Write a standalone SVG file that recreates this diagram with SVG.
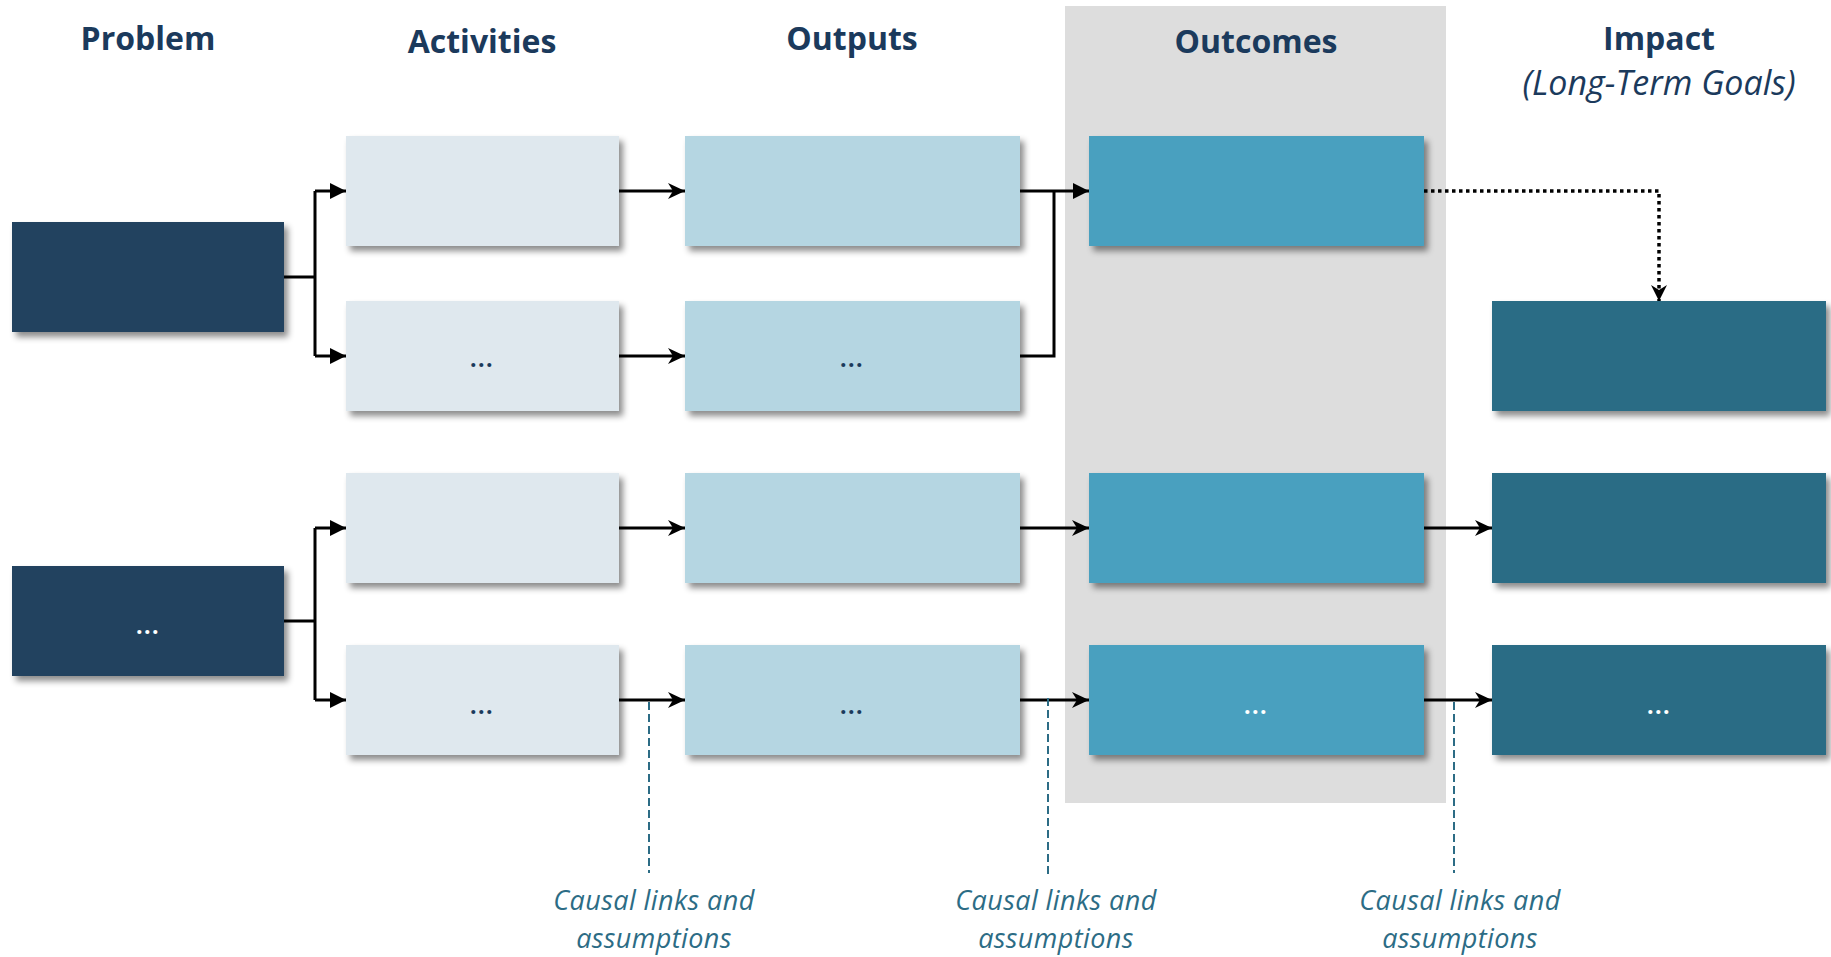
<svg xmlns="http://www.w3.org/2000/svg" width="1831" height="957" viewBox="0 0 1831 957">
  <style>
    .title { font-family: "Open Sans", "Liberation Sans", sans-serif; font-weight: 700; font-size: 32px; fill: #1b3a5c; text-anchor: middle; }
    .subtitle { font-family: "Open Sans", "Liberation Sans", sans-serif; font-style: italic; font-size: 34px; fill: #1b3a5c; text-anchor: middle; }
    .note { font-family: "Open Sans", "Liberation Sans", sans-serif; font-style: italic; font-size: 27px; letter-spacing: 0.4px; fill: #2c6c85; text-anchor: middle; }
    .dots { font-family: "Open Sans", "Liberation Sans", sans-serif; font-weight: 700; font-size: 23px; text-anchor: middle; letter-spacing: 1.5px; }
    .dots-dark { fill: #1b3a5c; }
    .dots-light { fill: #ffffff; }
    .problem { fill: #24425e; }
    .activity { fill: #dfe8ee; }
    .output { fill: #b5d6e2; }
    .outcome { fill: #4aa0bf; }
    .impact { fill: #2c6c85; }
    .box { filter: url(#shadow); }
    .link { fill: none; stroke: #000; stroke-width: 3; }
    .tri { marker-end: url(#tri); }
    .barb { marker-end: url(#barb); }
    .dotted { fill: none; stroke: #000; stroke-width: 3.5; stroke-dasharray: 3.5 3.5; marker-end: url(#barb-small); }
    .assume { fill: none; stroke: #2c6c85; stroke-width: 2; stroke-dasharray: 8 4; }
  </style>
  <defs>
    <filter id="shadow" x="-10%" y="-20%" width="125%" height="150%">
      <feDropShadow dx="4" dy="5" stdDeviation="3" flood-color="#000" flood-opacity="0.45"/>
    </filter>
    <marker id="tri" markerUnits="userSpaceOnUse" markerWidth="16" markerHeight="16" refX="16" refY="8" orient="auto">
      <path d="M0,0 L16,8 L0,16 z" fill="#000"/>
    </marker>
    <marker id="barb" markerUnits="userSpaceOnUse" markerWidth="17" markerHeight="16" refX="17" refY="8" orient="auto">
      <path d="M0,0 L17,8 L0,16 L5,8 z" fill="#000"/>
    </marker>
    <marker id="barb-small" markerUnits="userSpaceOnUse" markerWidth="16" markerHeight="16" refX="16" refY="8" orient="auto">
      <path d="M0,0 L16,8 L0,16 L5,8 z" fill="#000"/>
    </marker>
  </defs>

  <rect width="1831" height="957" fill="#ffffff"/>

  <!-- outcomes column band -->
  <rect id="outcomes-band" x="1065" y="6" width="381" height="797" fill="#dddddd"/>

  <!-- column headings -->
  <g id="headings">
    <text class="title" x="148" y="50">Problem</text>
    <text class="title" x="482" y="53">Activities</text>
    <text class="title" x="852" y="50">Outputs</text>
    <text class="title" x="1256" y="53">Outcomes</text>
    <text class="title" x="1659" y="50">Impact</text>
    <text class="subtitle" x="1659" y="95">(Long-Term Goals)</text>
  </g>

  <!-- connectors -->
  <g id="connectors">
    <!-- problem splits -->
    <path class="link" d="M284,277 H315 M315,191 V356"/>
    <path class="link tri" d="M315,191 H346"/>
    <path class="link tri" d="M315,356 H346"/>
    <path class="link" d="M284,621 H315 M315,528 V700"/>
    <path class="link tri" d="M315,528 H346"/>
    <path class="link tri" d="M315,700 H346"/>
    <!-- activities to outputs -->
    <path class="link barb" d="M619,191 H685"/>
    <path class="link barb" d="M619,356 H685"/>
    <path class="link barb" d="M619,528 H685"/>
    <path class="link barb" d="M619,700 H685"/>
    <!-- outputs to outcomes -->
    <path class="link tri" d="M1020,191 H1089"/>
    <path class="link" d="M1020,356 H1054 V191"/>
    <path class="link barb" d="M1020,528 H1089"/>
    <path class="link barb" d="M1020,700 H1089"/>
    <!-- outcomes to impact -->
    <path class="dotted" d="M1424,191 H1659 V301"/>
    <path class="link barb" d="M1424,528 H1492"/>
    <path class="link barb" d="M1424,700 H1492"/>
    <!-- assumption leaders -->
    <path class="assume" d="M649,702 V873"/>
    <path class="assume" d="M1048,698 V877"/>
    <path class="assume" d="M1454,702 V873"/>
  </g>

  <!-- problem -->
  <g id="problem-1"><rect class="box problem" x="12" y="222" width="272" height="110"/></g>
  <g id="problem-2"><rect class="box problem" x="12" y="566" width="272" height="110"/><text class="dots dots-light" x="148" y="634">...</text></g>

  <!-- activities -->
  <g id="activity-1"><rect class="box activity" x="346" y="136" width="273" height="110"/></g>
  <g id="activity-2"><rect class="box activity" x="346" y="301" width="273" height="110"/><text class="dots dots-dark" x="482" y="367">...</text></g>
  <g id="activity-3"><rect class="box activity" x="346" y="473" width="273" height="110"/></g>
  <g id="activity-4"><rect class="box activity" x="346" y="645" width="273" height="110"/><text class="dots dots-dark" x="482" y="714">...</text></g>

  <!-- outputs -->
  <g id="output-1"><rect class="box output" x="685" y="136" width="335" height="110"/></g>
  <g id="output-2"><rect class="box output" x="685" y="301" width="335" height="110"/><text class="dots dots-dark" x="852" y="367">...</text></g>
  <g id="output-3"><rect class="box output" x="685" y="473" width="335" height="110"/></g>
  <g id="output-4"><rect class="box output" x="685" y="645" width="335" height="110"/><text class="dots dots-dark" x="852" y="714">...</text></g>

  <!-- outcomes -->
  <g id="outcome-1"><rect class="box outcome" x="1089" y="136" width="335" height="110"/></g>
  <g id="outcome-3"><rect class="box outcome" x="1089" y="473" width="335" height="110"/></g>
  <g id="outcome-4"><rect class="box outcome" x="1089" y="645" width="335" height="110"/><text class="dots dots-light" x="1256" y="714">...</text></g>

  <!-- impact -->
  <g id="impact-1"><rect class="box impact" x="1492" y="301" width="334" height="110"/></g>
  <g id="impact-3"><rect class="box impact" x="1492" y="473" width="334" height="110"/></g>
  <g id="impact-4"><rect class="box impact" x="1492" y="645" width="334" height="110"/><text class="dots dots-light" x="1659" y="714">...</text></g>

  <!-- assumption notes -->
  <g id="note-1">
    <text class="note" x="654" y="910">Causal links and</text>
    <text class="note" x="654" y="948">assumptions</text>
  </g>
  <g id="note-2">
    <text class="note" x="1056" y="910">Causal links and</text>
    <text class="note" x="1056" y="948">assumptions</text>
  </g>
  <g id="note-3">
    <text class="note" x="1460" y="910">Causal links and</text>
    <text class="note" x="1460" y="948">assumptions</text>
  </g>
</svg>
